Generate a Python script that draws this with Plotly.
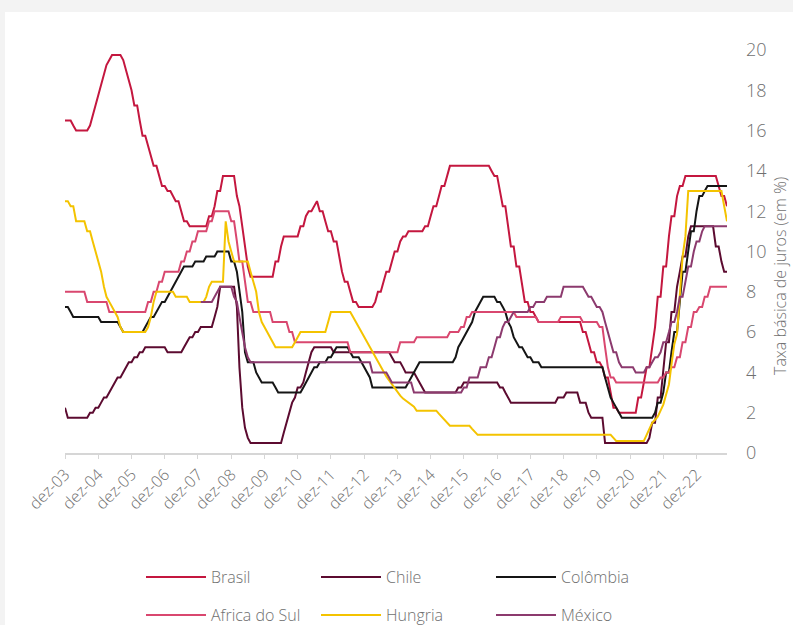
import pandas as pd
import plotly.graph_objects as go

# Monthly policy rates (% a.a.), dez/2003 to nov/2023
MONTHS = pd.date_range("2003-12-01", periods=240, freq="MS")

BRASIL = [
    16.5,
    16.5, 16.5, 16.25, 16.0, 16.0, 16.0, 16.0, 16.0, 16.25, 16.75, 17.25, 17.75,
    18.25, 18.75, 19.25, 19.5, 19.75, 19.75, 19.75, 19.75, 19.5, 19.0, 18.5, 18.0,
    17.25, 17.25, 16.5, 15.75, 15.75, 15.25, 14.75, 14.25, 14.25, 13.75, 13.25, 13.25,
    13.0, 13.0, 12.75, 12.5, 12.5, 12.0, 11.5, 11.5, 11.25, 11.25, 11.25, 11.25,
    11.25, 11.25, 11.25, 11.75, 11.75, 12.25, 13.0, 13.0, 13.75, 13.75, 13.75, 13.75,
    13.75, 12.75, 12.25, 11.25, 10.25, 9.25, 8.75, 8.75, 8.75, 8.75, 8.75, 8.75,
    8.75, 8.75, 8.75, 9.5, 9.5, 10.25, 10.75, 10.75, 10.75, 10.75, 10.75, 10.75,
    11.25, 11.25, 11.75, 12.0, 12.0, 12.25, 12.5, 12.0, 12.0, 11.5, 11.0, 11.0,
    10.5, 10.5, 9.75, 9.0, 8.5, 8.5, 8.0, 7.5, 7.5, 7.25, 7.25, 7.25,
    7.25, 7.25, 7.25, 7.5, 8.0, 8.0, 8.5, 9.0, 9.0, 9.5, 10.0, 10.0,
    10.5, 10.75, 10.75, 11.0, 11.0, 11.0, 11.0, 11.0, 11.0, 11.25, 11.25, 11.75,
    12.25, 12.25, 12.75, 13.25, 13.25, 13.75, 14.25, 14.25, 14.25, 14.25, 14.25, 14.25,
    14.25, 14.25, 14.25, 14.25, 14.25, 14.25, 14.25, 14.25, 14.25, 14.0, 13.75, 13.75,
    13.0, 12.25, 12.25, 11.25, 10.25, 10.25, 9.25, 9.25, 8.25, 7.5, 7.5, 7.0,
    7.0, 6.75, 6.5, 6.5, 6.5, 6.5, 6.5, 6.5, 6.5, 6.5, 6.5, 6.5,
    6.5, 6.5, 6.5, 6.5, 6.5, 6.5, 6.0, 6.0, 5.5, 5.0, 5.0, 4.5,
    4.5, 4.25, 3.75, 3.75, 3.0, 2.25, 2.25, 2.0, 2.0, 2.0, 2.0, 2.0,
    2.0, 2.0, 2.75, 2.75, 3.5, 4.25, 4.25, 5.25, 6.25, 7.75, 7.75, 9.25,
    9.25, 10.75, 11.75, 11.75, 12.75, 13.25, 13.25, 13.75, 13.75, 13.75, 13.75, 13.75,
    13.75, 13.75, 13.75, 13.75, 13.75, 13.75, 13.75, 13.25, 12.75, 12.75, 12.25,
]

CHILE = [
    2.25,
    1.75, 1.75, 1.75, 1.75, 1.75, 1.75, 1.75, 1.75, 2.0, 2.0, 2.25, 2.25,
    2.5, 2.75, 2.75, 3.0, 3.25, 3.5, 3.75, 3.75, 4.0, 4.25, 4.5, 4.5,
    4.75, 4.75, 5.0, 5.0, 5.25, 5.25, 5.25, 5.25, 5.25, 5.25, 5.25, 5.25,
    5.0, 5.0, 5.0, 5.0, 5.0, 5.0, 5.25, 5.5, 5.75, 5.75, 6.0, 6.0,
    6.25, 6.25, 6.25, 6.25, 6.25, 6.75, 7.25, 8.25, 8.25, 8.25, 8.25, 8.25,
    8.25, 7.25, 4.25, 2.25, 1.25, 0.75, 0.5, 0.5, 0.5, 0.5, 0.5, 0.5,
    0.5, 0.5, 0.5, 0.5, 0.5, 0.5, 1.0, 1.5, 2.0, 2.5, 2.75, 3.25,
    3.25, 3.5, 4.0, 4.5, 5.0, 5.25, 5.25, 5.25, 5.25, 5.25, 5.25, 5.25,
    5.0, 5.0, 5.0, 5.0, 5.0, 5.0, 5.0, 5.0, 5.0, 5.0, 5.0, 5.0,
    5.0, 5.0, 5.0, 5.0, 5.0, 5.0, 5.0, 5.0, 5.0, 4.75, 4.5, 4.5,
    4.5, 4.25, 4.0, 4.0, 4.0, 4.0, 3.75, 3.5, 3.25, 3.0, 3.0, 3.0,
    3.0, 3.0, 3.0, 3.0, 3.0, 3.0, 3.0, 3.0, 3.0, 3.25, 3.25, 3.5,
    3.5, 3.5, 3.5, 3.5, 3.5, 3.5, 3.5, 3.5, 3.5, 3.5, 3.5, 3.5,
    3.25, 3.25, 3.0, 2.75, 2.5, 2.5, 2.5, 2.5, 2.5, 2.5, 2.5, 2.5,
    2.5, 2.5, 2.5, 2.5, 2.5, 2.5, 2.5, 2.5, 2.5, 2.75, 2.75, 2.75,
    3.0, 3.0, 3.0, 3.0, 3.0, 2.5, 2.5, 2.5, 2.0, 1.75, 1.75, 1.75,
    1.75, 1.75, 0.5, 0.5, 0.5, 0.5, 0.5, 0.5, 0.5, 0.5, 0.5, 0.5,
    0.5, 0.5, 0.5, 0.5, 0.5, 0.5, 0.75, 1.5, 1.5, 2.75, 2.75, 4.0,
    5.5, 5.5, 7.0, 7.0, 8.25, 9.0, 9.75, 9.75, 10.75, 11.25, 11.25, 11.25,
    11.25, 11.25, 11.25, 11.25, 11.25, 11.25, 10.25, 10.25, 9.5, 9.0, 9.0,
]

COLOMBIA = [
    7.25,
    7.25, 7.0, 6.75, 6.75, 6.75, 6.75, 6.75, 6.75, 6.75, 6.75, 6.75, 6.75,
    6.5, 6.5, 6.5, 6.5, 6.5, 6.5, 6.5, 6.25, 6.0, 6.0, 6.0, 6.0,
    6.0, 6.0, 6.0, 6.0, 6.25, 6.5, 6.75, 6.75, 7.0, 7.25, 7.5, 7.5,
    7.75, 8.0, 8.25, 8.5, 8.75, 9.0, 9.25, 9.25, 9.25, 9.25, 9.5, 9.5,
    9.5, 9.5, 9.75, 9.75, 9.75, 9.75, 10.0, 10.0, 10.0, 10.0, 10.0, 9.5,
    9.5, 9.0, 8.0, 7.0, 5.0, 4.5, 4.5, 4.5, 4.0, 3.75, 3.5, 3.5,
    3.5, 3.5, 3.5, 3.25, 3.0, 3.0, 3.0, 3.0, 3.0, 3.0, 3.0, 3.0,
    3.0, 3.25, 3.5, 3.75, 4.0, 4.25, 4.25, 4.5, 4.5, 4.5, 4.75, 4.75,
    5.0, 5.25, 5.25, 5.25, 5.25, 5.25, 5.0, 4.75, 4.75, 4.75, 4.5, 4.25,
    4.0, 3.75, 3.25, 3.25, 3.25, 3.25, 3.25, 3.25, 3.25, 3.25, 3.25, 3.25,
    3.25, 3.25, 3.25, 3.5, 3.75, 4.0, 4.25, 4.5, 4.5, 4.5, 4.5, 4.5,
    4.5, 4.5, 4.5, 4.5, 4.5, 4.5, 4.5, 4.5, 4.75, 5.25, 5.5, 5.75,
    6.0, 6.25, 6.5, 7.0, 7.25, 7.5, 7.75, 7.75, 7.75, 7.75, 7.75, 7.5,
    7.5, 7.25, 7.0, 6.5, 6.25, 5.75, 5.5, 5.25, 5.25, 5.0, 4.75, 4.75,
    4.5, 4.5, 4.5, 4.25, 4.25, 4.25, 4.25, 4.25, 4.25, 4.25, 4.25, 4.25,
    4.25, 4.25, 4.25, 4.25, 4.25, 4.25, 4.25, 4.25, 4.25, 4.25, 4.25, 4.25,
    4.25, 4.25, 3.75, 3.25, 2.75, 2.5, 2.25, 2.0, 1.75, 1.75, 1.75, 1.75,
    1.75, 1.75, 1.75, 1.75, 1.75, 1.75, 1.75, 1.75, 2.0, 2.5, 2.5, 3.0,
    4.0, 4.0, 5.0, 6.0, 6.0, 7.5, 9.0, 9.0, 10.0, 11.0, 11.0, 12.0,
    12.75, 12.75, 13.0, 13.25, 13.25, 13.25, 13.25, 13.25, 13.25, 13.25, 13.25,
]

AFRICA_DO_SUL = [
    8.0,
    8.0, 8.0, 8.0, 8.0, 8.0, 8.0, 8.0, 7.5, 7.5, 7.5, 7.5, 7.5,
    7.5, 7.5, 7.5, 7.0, 7.0, 7.0, 7.0, 7.0, 7.0, 7.0, 7.0, 7.0,
    7.0, 7.0, 7.0, 7.0, 7.0, 7.5, 7.5, 8.0, 8.0, 8.5, 8.5, 9.0,
    9.0, 9.0, 9.0, 9.0, 9.0, 9.5, 9.5, 10.0, 10.0, 10.5, 10.5, 11.0,
    11.0, 11.0, 11.0, 11.5, 11.5, 12.0, 12.0, 12.0, 12.0, 12.0, 12.0, 11.5,
    11.5, 10.5, 9.5, 9.5, 8.5, 7.5, 7.5, 7.0, 7.0, 7.0, 7.0, 7.0,
    7.0, 7.0, 6.5, 6.5, 6.5, 6.5, 6.5, 6.5, 6.0, 6.0, 5.5, 5.5,
    5.5, 5.5, 5.5, 5.5, 5.5, 5.5, 5.5, 5.5, 5.5, 5.5, 5.5, 5.5,
    5.5, 5.5, 5.5, 5.5, 5.5, 5.5, 5.0, 5.0, 5.0, 5.0, 5.0, 5.0,
    5.0, 5.0, 5.0, 5.0, 5.0, 5.0, 5.0, 5.0, 5.0, 5.0, 5.0, 5.0,
    5.5, 5.5, 5.5, 5.5, 5.5, 5.5, 5.75, 5.75, 5.75, 5.75, 5.75, 5.75,
    5.75, 5.75, 5.75, 5.75, 5.75, 5.75, 6.0, 6.0, 6.0, 6.0, 6.25, 6.25,
    6.75, 6.75, 7.0, 7.0, 7.0, 7.0, 7.0, 7.0, 7.0, 7.0, 7.0, 7.0,
    7.0, 7.0, 7.0, 7.0, 7.0, 7.0, 6.75, 6.75, 6.75, 6.75, 6.75, 6.75,
    6.75, 6.75, 6.5, 6.5, 6.5, 6.5, 6.5, 6.5, 6.5, 6.5, 6.75, 6.75,
    6.75, 6.75, 6.75, 6.75, 6.75, 6.75, 6.5, 6.5, 6.5, 6.5, 6.5, 6.5,
    6.25, 6.25, 5.25, 4.25, 3.75, 3.75, 3.5, 3.5, 3.5, 3.5, 3.5, 3.5,
    3.5, 3.5, 3.5, 3.5, 3.5, 3.5, 3.5, 3.5, 3.5, 3.5, 3.75, 3.75,
    4.0, 4.0, 4.25, 4.25, 4.75, 4.75, 5.5, 5.5, 6.25, 6.25, 7.0, 7.0,
    7.25, 7.25, 7.75, 7.75, 8.25, 8.25, 8.25, 8.25, 8.25, 8.25, 8.25,
]

HUNGRIA = [
    12.5,
    12.5, 12.25, 12.25, 11.5, 11.5, 11.5, 11.5, 11.0, 11.0, 10.5, 10.0, 9.5,
    9.0, 8.25, 7.75, 7.5, 7.25, 7.0, 6.75, 6.25, 6.0, 6.0, 6.0, 6.0,
    6.0, 6.0, 6.0, 6.0, 6.0, 6.25, 6.75, 7.5, 8.0, 8.0, 8.0, 8.0,
    8.0, 8.0, 8.0, 7.75, 7.75, 7.75, 7.75, 7.75, 7.5, 7.5, 7.5, 7.5,
    7.5, 7.5, 7.75, 8.25, 8.5, 8.5, 8.5, 8.5, 8.5, 11.5, 10.5, 10.0,
    9.5, 9.5, 9.5, 9.5, 9.5, 9.5, 9.0, 8.5, 8.0, 7.0, 6.5, 6.25,
    6.0, 5.75, 5.5, 5.25, 5.25, 5.25, 5.25, 5.25, 5.25, 5.25, 5.5, 5.75,
    6.0, 6.0, 6.0, 6.0, 6.0, 6.0, 6.0, 6.0, 6.0, 6.0, 6.5, 7.0,
    7.0, 7.0, 7.0, 7.0, 7.0, 7.0, 7.0, 6.75, 6.5, 6.25, 6.0, 5.75,
    5.5, 5.25, 5.0, 4.75, 4.5, 4.25, 4.0, 3.8, 3.6, 3.4, 3.2, 3.0,
    2.85, 2.7, 2.6, 2.5, 2.4, 2.3, 2.1, 2.1, 2.1, 2.1, 2.1, 2.1,
    2.1, 2.1, 1.95, 1.8, 1.65, 1.5, 1.35, 1.35, 1.35, 1.35, 1.35, 1.35,
    1.35, 1.35, 1.2, 1.05, 0.9, 0.9, 0.9, 0.9, 0.9, 0.9, 0.9, 0.9,
    0.9, 0.9, 0.9, 0.9, 0.9, 0.9, 0.9, 0.9, 0.9, 0.9, 0.9, 0.9,
    0.9, 0.9, 0.9, 0.9, 0.9, 0.9, 0.9, 0.9, 0.9, 0.9, 0.9, 0.9,
    0.9, 0.9, 0.9, 0.9, 0.9, 0.9, 0.9, 0.9, 0.9, 0.9, 0.9, 0.9,
    0.9, 0.9, 0.9, 0.9, 0.9, 0.75, 0.6, 0.6, 0.6, 0.6, 0.6, 0.6,
    0.6, 0.6, 0.6, 0.6, 0.6, 0.9, 1.2, 1.5, 1.65, 1.8, 2.1, 2.4,
    2.9, 3.4, 4.4, 5.4, 5.9, 7.75, 9.75, 10.75, 13.0, 13.0, 13.0, 13.0,
    13.0, 13.0, 13.0, 13.0, 13.0, 13.0, 13.0, 13.0, 13.0, 12.25, 11.5,
]

# Banxico target rate series begins in jan/2008
MEXICO = [
    None,
    None, None, None, None, None, None, None, None, None, None, None, None,
    None, None, None, None, None, None, None, None, None, None, None, None,
    None, None, None, None, None, None, None, None, None, None, None, None,
    None, None, None, None, None, None, None, None, None, None, None, None,
    7.5, 7.5, 7.5, 7.5, 7.5, 7.75, 8.0, 8.25, 8.25, 8.25, 8.25, 8.25,
    7.75, 7.5, 6.75, 6.0, 5.25, 4.75, 4.5, 4.5, 4.5, 4.5, 4.5, 4.5,
    4.5, 4.5, 4.5, 4.5, 4.5, 4.5, 4.5, 4.5, 4.5, 4.5, 4.5, 4.5,
    4.5, 4.5, 4.5, 4.5, 4.5, 4.5, 4.5, 4.5, 4.5, 4.5, 4.5, 4.5,
    4.5, 4.5, 4.5, 4.5, 4.5, 4.5, 4.5, 4.5, 4.5, 4.5, 4.5, 4.5,
    4.5, 4.5, 4.0, 4.0, 4.0, 4.0, 4.0, 4.0, 3.75, 3.5, 3.5, 3.5,
    3.5, 3.5, 3.5, 3.5, 3.5, 3.0, 3.0, 3.0, 3.0, 3.0, 3.0, 3.0,
    3.0, 3.0, 3.0, 3.0, 3.0, 3.0, 3.0, 3.0, 3.0, 3.0, 3.0, 3.25,
    3.25, 3.75, 3.75, 3.75, 3.75, 4.25, 4.25, 4.25, 4.75, 4.75, 5.25, 5.75,
    5.75, 6.25, 6.5, 6.5, 6.75, 7.0, 7.0, 7.0, 7.0, 7.0, 7.0, 7.25,
    7.25, 7.5, 7.5, 7.5, 7.5, 7.75, 7.75, 7.75, 7.75, 7.75, 7.75, 8.25,
    8.25, 8.25, 8.25, 8.25, 8.25, 8.25, 8.25, 8.0, 7.75, 7.75, 7.5, 7.25,
    7.25, 7.0, 6.5, 6.0, 5.5, 5.0, 5.0, 4.5, 4.25, 4.25, 4.25, 4.25,
    4.25, 4.0, 4.0, 4.0, 4.0, 4.25, 4.25, 4.5, 4.75, 4.75, 5.0, 5.5,
    5.5, 6.0, 6.5, 6.5, 7.0, 7.75, 7.75, 8.5, 9.25, 9.25, 10.0, 10.5,
    10.5, 11.0, 11.25, 11.25, 11.25, 11.25, 11.25, 11.25, 11.25, 11.25, 11.25,
]

SERIES_NAMES = ["Brasil", "Chile", "Colômbia", "Africa do Sul", "Hungria", "México"]
SERIES_VALUES = [BRASIL, CHILE, COLOMBIA, AFRICA_DO_SUL, HUNGRIA, MEXICO]
SERIES_COLORS = ["#c4173f", "#5c0b30", "#151515", "#d9476f", "#f4c300", "#8c3a6e"]
SERIES_LEGEND = ["legend", "legend", "legend", "legend2", "legend2", "legend2"]

TICK_YEARS = list(range(2003, 2023))
TICK_LABELS = ["dez-03", "dez-04", "dez-05", "dez-06", "dez-07", "dez-08", "dez-09",
               "dez-10", "dez-11", "dez-12", "dez-13", "dez-14", "dez-15", "dez-16",
               "dez-17", "dez-18", "dez-19", "dez-20", "dez-21", "dez-22"]
TICK_DATES = [f"{y}-12-01" for y in TICK_YEARS]

Y_TITLE = "Taxa básica de juros (em %)"

FONT = "'Open Sans', Lato, sans-serif"
TEXT_GREY = "#707070"

fig = go.Figure()
for name, vals, color, leg in zip(SERIES_NAMES, SERIES_VALUES, SERIES_COLORS, SERIES_LEGEND):
    fig.add_trace(go.Scatter(
        x=MONTHS, y=vals, name=name, mode="lines",
        line=dict(color=color, width=2),
        legend=leg, connectgaps=False,
    ))

# plot area in pixels
L, R, T, B = 65, 727, 50, 453
W, H = 793, 625
pw, ph = R - L, B - T


def px_x(px):
    return (px - L) / pw


def px_y(py):
    return (B - py) / ph


legend_common = dict(
    orientation="h", xanchor="left", yanchor="middle",
    entrywidth=100, entrywidthmode="pixels", itemwidth=60,
    font=dict(family=FONT, size=16, color=TEXT_GREY, weight=300),
    bgcolor="rgba(0,0,0,0)", itemclick=False, itemdoubleclick=False,
)

fig.update_layout(
    width=W, height=H,
    margin=dict(l=L, r=W - R, t=T, b=H - B, pad=0, autoexpand=False),
    paper_bgcolor="#f3f3f3",
    plot_bgcolor="white",
    font=dict(family=FONT, color=TEXT_GREY),
    showlegend=True,
    legend=dict(x=px_x(141), y=px_y(577), **legend_common),
    legend2=dict(x=px_x(141), y=px_y(615), **legend_common),
    xaxis=dict(
        type="date",
        range=[MONTHS[0], MONTHS[-1]],
        tickvals=TICK_DATES, ticktext=TICK_LABELS,
        tickangle=-45,
        tickfont=dict(family=FONT, size=16, color=TEXT_GREY, weight=300),
        showgrid=False, zeroline=False,
        showline=True, linecolor="#d6d6d6", linewidth=2,
        ticks="outside", ticklen=4, tickcolor="#d6d6d6", tickwidth=1,
    ),
    yaxis=dict(
        side="right", range=[0, 20], dtick=2, tick0=0,
        showgrid=False, zeroline=False, showline=False, ticks="",
        tickfont=dict(family=FONT, size=18, color=TEXT_GREY, weight=300),
        ticklabelstandoff=18,
    ),
    shapes=[dict(
        type="rect", xref="paper", yref="paper", layer="below",
        x0=px_x(5), x1=px_x(W + 5), y0=px_y(H + 5), y1=px_y(12),
        fillcolor="white", line=dict(width=0),
    )],
    annotations=[dict(
        text=Y_TITLE, xref="paper", yref="paper",
        x=px_x(780), y=px_y(276), textangle=-90,
        showarrow=False, xanchor="center", yanchor="middle",
        font=dict(family=FONT, size=16, color=TEXT_GREY, weight=300),
    )],
)

fig.write_html("out.html")
